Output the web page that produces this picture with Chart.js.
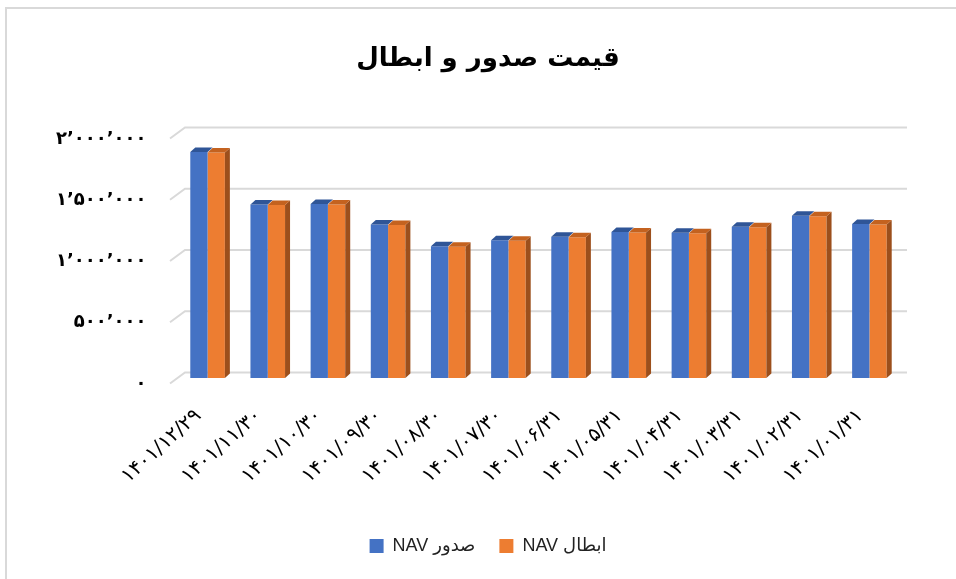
<!DOCTYPE html>
<html>
<head>
<meta charset="utf-8">
<script src="https://cdn.jsdelivr.net/npm/chart.js@4"></script>
<style>
  html, body { margin: 0; padding: 0; background: #fff; }
  #wrap { position: absolute; left: 0; top: 0; width: 956px; height: 579px; }
  #frame { position: absolute; left: 5px; top: 7px; width: 960px; height: 580px; border-left: 2px solid #d9d9d9; border-top: 2px solid #d9d9d9; }
  canvas { position: absolute; left: 0; top: 0; }
</style>
</head>
<body>
<div id="wrap">
  <div id="frame"></div>
  <canvas id="c" width="956" height="579"></canvas>
</div>
<script>
const categories = ['۱۴۰۱/۱۲/۲۹','۱۴۰۱/۱۱/۳۰','۱۴۰۱/۱۰/۳۰','۱۴۰۱/۰۹/۳۰','۱۴۰۱/۰۸/۳۰','۱۴۰۱/۰۷/۳۰','۱۴۰۱/۰۶/۳۱','۱۴۰۱/۰۵/۳۱','۱۴۰۱/۰۴/۳۱','۱۴۰۱/۰۳/۳۱','۱۴۰۱/۰۲/۳۱','۱۴۰۱/۰۱/۳۱'];
const issueNav  = [1844000, 1416000, 1420000, 1254000, 1076000, 1125000, 1153000, 1191000, 1186000, 1235000, 1325000, 1257000];
const cancelNav = [1840000, 1412000, 1416000, 1250000, 1072000, 1121000, 1149000, 1187000, 1182000, 1231000, 1321000, 1253000];
const seriesNames = ['NAV صدور', 'NAV ابطال'];
const yTickValues = [0, 500000, 1000000, 1500000, 2000000];
const yTickLabels = ['۰', '۵۰۰’۰۰۰', '۱’۰۰۰’۰۰۰', '۱’۵۰۰’۰۰۰', '۲’۰۰۰’۰۰۰'];
const titleText = 'قیمت صدور و ابطال';

const DX = 7.5, DY = 5.5;      // wall depth
const BDX = 5, BDY = 4.5;      // bar depth
const topColors = ['#2F5597', '#C4621F'];
const sideColors = ['#2F5597', '#9C4F1C'];

const gridPlugin = {
  id: 'grid3d',
  afterLayout(chart) {
    // let the y tick labels use the whole left margin (no clipping)
    chart.scales.y.left = 0;
  },
  beforeDatasetsDraw(chart) {
    const {ctx, chartArea} = chart;
    const ys = chart.scales.y;
    ctx.save();
    ctx.strokeStyle = '#d9d9d9';
    ctx.lineWidth = 2;
    yTickValues.forEach(v => {
      const y = ys.getPixelForValue(v);
      ctx.beginPath();
      ctx.moveTo(chartArea.left - DX, y + DY);
      ctx.lineTo(chartArea.left + DX, y - DY);
      ctx.lineTo(chartArea.right + DX, y - DY);
      ctx.stroke();
    });
    ctx.restore();
  }
};

const barPlugin = {
  id: 'bar3d',
  afterDatasetsDraw(chart) {
    const ctx = chart.ctx;
    ctx.save();
    const n = chart.data.labels.length;
    for (let i = 0; i < n; i++) {
      chart.data.datasets.forEach((ds, di) => {
        const el = chart.getDatasetMeta(di).data[i];
        const l = el.x - el.width / 2, r = el.x + el.width / 2;
        const y = el.y, b = el.base;
        if (di === chart.data.datasets.length - 1) {
          ctx.fillStyle = sideColors[di];
          ctx.beginPath();
          ctx.moveTo(r, y); ctx.lineTo(r + BDX, y - BDY);
          ctx.lineTo(r + BDX, b - BDY); ctx.lineTo(r, b);
          ctx.closePath(); ctx.fill();
        }
        ctx.fillStyle = topColors[di];
        ctx.beginPath();
        ctx.moveTo(l, y); ctx.lineTo(r, y);
        ctx.lineTo(r + BDX, y - BDY); ctx.lineTo(l + BDX, y - BDY);
        ctx.closePath(); ctx.fill();
      });
    }
    ctx.restore();
  }
};

new Chart(document.getElementById('c'), {
  type: 'bar',
  data: {
    labels: categories,
    datasets: [
      { label: seriesNames[0], data: issueNav, backgroundColor: '#4472C4', borderWidth: 0 },
      { label: seriesNames[1], data: cancelNav, backgroundColor: '#ED7D31', borderWidth: 0 }
    ]
  },
  options: {
    responsive: false,
    animation: false,
    devicePixelRatio: 1,
    layout: { padding: { left: 76.5, right: 56.5, top: 0, bottom: 14 } },
    datasets: { bar: { categoryPercentage: 0.575, barPercentage: 1 } },
    plugins: {
      title: {
        display: true,
        text: titleText,
        color: '#000',
        font: { family: 'DejaVu Sans', size: 26, weight: 'bold' },
        padding: { top: 44, bottom: 57.8 }
      },
      legend: {
        position: 'bottom',
        labels: {
          color: '#222',
          font: { family: 'Liberation Sans, DejaVu Sans', size: 18 },
          boxWidth: 14, boxHeight: 14, padding: 24
        }
      },
      tooltip: { enabled: false }
    },
    scales: {
      x: {
        grid: { display: false, drawTicks: false },
        border: { display: false },
        ticks: {
          minRotation: 42, maxRotation: 42, autoSkip: false,
          color: '#000', padding: 26, labelOffset: -9,
          font: { family: 'DejaVu Sans', size: 20 }
        },
        afterFit(s) { s.height = 135; }
      },
      y: {
        min: 0, max: 2000000,
        grid: { display: false, drawTicks: false },
        border: { display: false },
        afterBuildTicks(s) { s.ticks = yTickValues.map(v => ({ value: v })); },
        afterFit(s) { s.width = 101; },
        ticks: {
          color: '#000', padding: 31, labelOffset: 6,
          font: { family: 'DejaVu Sans', size: 18, weight: 'bold' },
          callback: (v) => yTickLabels[yTickValues.indexOf(v)]
        }
      }
    }
  },
  plugins: [gridPlugin, barPlugin]
});
</script>
</body>
</html>
